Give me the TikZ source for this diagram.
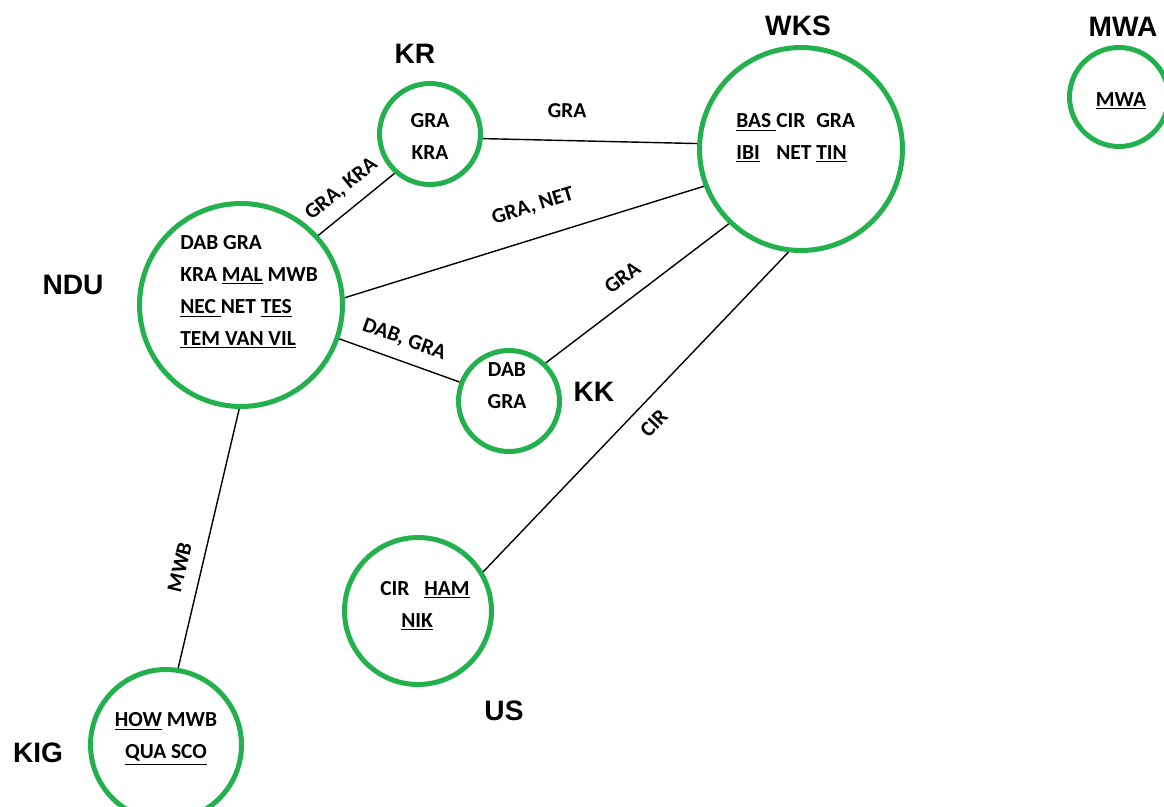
\documentclass[tikz,border=0pt]{standalone}
\usepackage{fontspec}
\setmainfont{Carlito}
\newfontfamily\namefont{Liberation Sans}
\usetikzlibrary{positioning}
\definecolor{sitegreen}{RGB}{34,177,76}

\begin{document}
\begin{tikzpicture}[x=0.02cm, y=-0.02cm,
    site/.style={circle, draw=sitegreen, line width=0.1cm, inner sep=0pt},
    species/.style={font=\fontsize{12.2}{18.2}\selectfont\bfseries, inner sep=0pt},
    sitename/.style={font=\namefont\fontsize{16}{19}\selectfont\bfseries, inner sep=0pt},
    share/.style={font=\fontsize{12.2}{14}\selectfont\bfseries, sloped, inner sep=0.24cm},
    link/.style={line width=0.8pt}]
    \useasboundingbox (0,0) rectangle (1164,807);

    % Draw sites
    \node [site, minimum size=2.02cm] (kr) at (430,134) {};
    \node [site, minimum size=4.06cm] (wks) at (801,149) {};
    \node [site, minimum size=1.98cm] (mwa) at (1119,97) {};
    \node [site, minimum size=4.06cm] (ndu) at (241,305) {};
    \node [site, minimum size=2.02cm] (kk) at (509,401) {};
    \node [site, minimum size=2.94cm] (us) at (418,611) {};
    \node [site, minimum size=3.02cm] (kig) at (166,745) {};

    % Site names
    \node [sitename] (krname) at (415,54) {KR};
    \node [sitename] (wksname) at (798,26) {WKS};
    \node [sitename] (mwaname) at (1123,27) {MWA};
    \node [sitename] (nduname) at (73,285) {NDU};
    \node [sitename] (kkname) at (594,392) {KK};
    \node [sitename] (usname) at (504,711) {US};
    \node [sitename] (kigname) at (38,753) {KIG};

    % Species in each site
    \node [species, align=center] (krtext) at (430,136) {GRA\\KRA};
    \node [species, align=left, anchor=west] (wkstext) at (736,138)
        {\makebox[0.8cm][l]{\underline{BAS\ }}\makebox[0.8cm][l]{CIR}GRA\\
         \makebox[0.8cm][l]{\underline{IBI}}\makebox[0.8cm][l]{NET}\underline{TIN}};
    \node [species] (mwatext) at (1121,101) {\underline{MWA}};
    \node [species, align=left, anchor=west] (ndutext) at (180,292)
        {DAB GRA\\KRA \underline{MAL} MWB\\\underline{NEC\ }NET \underline{TES}\\\underline{TEM VAN VIL}};
    \node [species, align=center] (kktext) at (507,386) {DAB\\GRA};
    \node [species, align=left, anchor=west] (ustext) at (380,606)
        {CIR\hspace{0.3cm}\underline{HAM}\\\hspace{0.42cm}\underline{NIK}};
    \node [species, align=center] (kigtext) at (166,739) {\underline{HOW} MWB\\\underline{QUA SCO}};

    % Draw shared species
    \draw [link] (ndu.42) -- node [share, above, pos=0.48] {GRA, KRA} (kr.228);
    \draw [link] (kr.-5) -- node [share, above, pos=0.39, inner sep=0.44cm] {GRA} (wks.177);
    \draw [link] (ndu.4) -- node [share, above, pos=0.55, inner sep=0.44cm] {GRA, NET} (wks.201);
    \draw [link] (ndu.-19) -- node [share, above, pos=0.48] {DAB, GRA} (kk.159);
    \draw [link] (kk.46) -- node [share, above, pos=0.49, inner sep=0.28cm] {GRA} (wks.226);
    \draw [link] (us.31) -- node [share, below, pos=0.51, inner sep=0.26cm] {CIR} (wks.263);
    \draw [link] (ndu.269) -- node [share, above, pos=0.63, inner sep=0.28cm] {MWB} (kig.81);
\end{tikzpicture}
\end{document}
